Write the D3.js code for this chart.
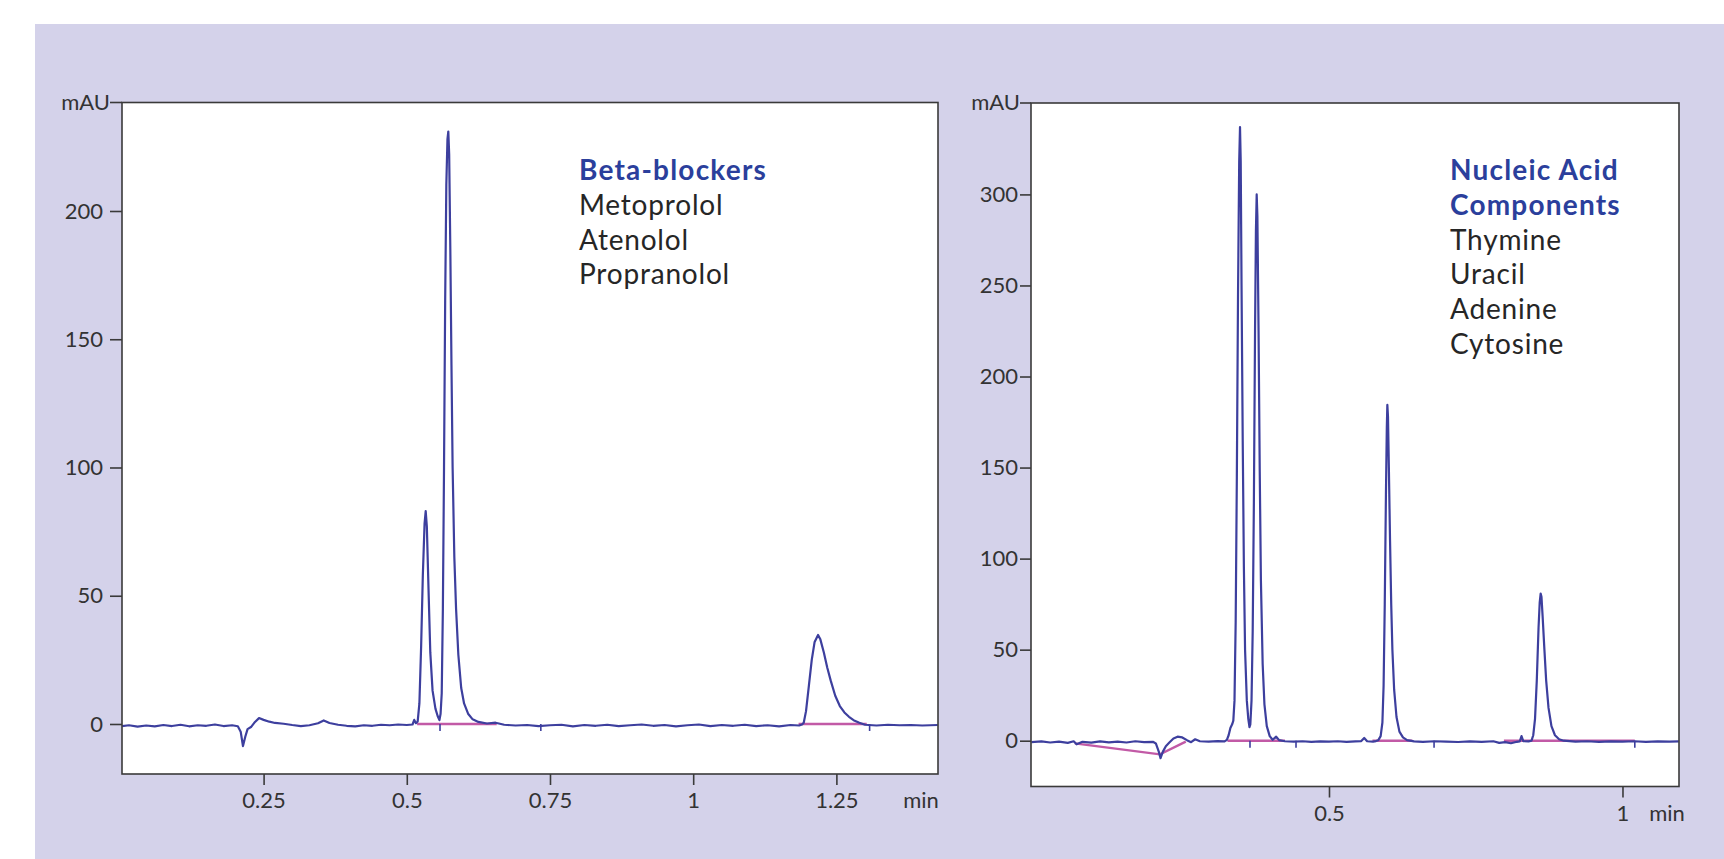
<!DOCTYPE html>
<html>
<head>
<meta charset="utf-8">
<script src="https://cdn.jsdelivr.net/npm/d3@7"></script>
<style>
html, body { margin: 0; padding: 0; background: #fff; }
svg { display: block; }
text { font-family: Lato, "Open Sans", sans-serif; }
</style>
</head>
<body>
<svg id="chart" width="1724" height="859"></svg>
<script>
// ---- Beta-blockers chromatogram (min, mAU) ----
const betaTrace = [
  [0.003,-0.8],[0.015,-0.5],[0.03,-1.0],[0.045,-0.6],[0.06,-0.9],[0.075,-0.4],[0.09,-0.8],[0.105,-0.3],
  [0.12,-0.9],[0.135,-0.5],[0.15,-0.7],[0.165,-0.2],[0.18,-0.8],[0.195,-0.5],[0.205,-0.9],[0.21,-3.0],
  [0.214,-8.6],[0.218,-5.0],[0.222,-2.0],[0.228,-1.2],[0.235,0.8],[0.242,2.3],[0.25,1.6],[0.26,0.9],
  [0.27,0.4],[0.285,0.1],[0.3,-0.4],[0.315,-0.8],[0.33,-0.5],[0.345,0.3],[0.355,1.4],[0.365,0.4],
  [0.38,-0.3],[0.395,-0.7],[0.41,-0.9],[0.425,-0.5],[0.44,-0.7],[0.455,-0.3],[0.47,-0.5],[0.485,-0.2],
  [0.5,-0.4],[0.51,-0.2],[0.513,1.6],[0.516,0.3],[0.519,1.0],[0.522,8],[0.525,30],[0.528,58],
  [0.531,78],[0.533,83],[0.535,77],[0.538,52],[0.541,28],[0.545,13],[0.55,6],[0.554,3],
  [0.557,1.5],[0.559,4],[0.561,12],[0.563,45],[0.565,100],[0.567,165],[0.569,210],[0.571,228],
  [0.5725,231],[0.574,222],[0.576,185],[0.578,140],[0.58,100],[0.583,65],[0.586,45],[0.59,27],
  [0.595,14],[0.6,8],[0.607,4],[0.615,1.8],[0.625,0.8],[0.64,0.2],[0.655,0.5],[0.67,-0.3],
  [0.69,-0.6],[0.71,-0.4],[0.73,-0.8],[0.75,-0.5],[0.77,-0.3],[0.79,-0.9],[0.81,-0.4],[0.83,-0.7],
  [0.85,-0.3],[0.87,-0.8],[0.89,-0.5],[0.91,-0.2],[0.93,-0.7],[0.95,-0.4],[0.97,-0.9],[0.99,-0.5],
  [1.01,-0.2],[1.03,-0.8],[1.05,-0.4],[1.07,-0.7],[1.09,-0.3],[1.11,-0.8],[1.13,-0.5],[1.15,-0.9],
  [1.17,-0.4],[1.185,-0.6],[1.19,-0.2],[1.193,0.5],[1.197,5],[1.202,15],[1.207,25],[1.212,32],
  [1.218,34.7],[1.222,33],[1.228,28],[1.234,22],[1.24,17],[1.248,11],[1.256,7],[1.264,4.5],
  [1.272,2.8],[1.28,1.5],[1.29,0.5],[1.3,-0.3],[1.32,-0.6],[1.34,-0.3],[1.36,-0.5],[1.38,-0.4],
  [1.4,-0.6],[1.427,-0.4]
];
const betaBaselines = [
  [[0.518,0],[0.657,0]],
  [[1.184,0],[1.303,0]]
];
const betaMarks = [0.558, 0.734, 1.308];
const betaYTicks = [0, 50, 100, 150, 200];
const betaXTicks = [0.25, 0.5, 0.75, 1, 1.25];
const betaXLabels = ["0.25", "0.5", "0.75", "1", "1.25"];
const betaTitle = ["Beta-blockers"];
const betaNames = ["Metoprolol", "Atenolol", "Propranolol"];

// ---- Nucleic acid components chromatogram (min, mAU) ----
const nucleicTrace = [
  [-0.007,-0.8],[0.01,-0.4],[0.025,-1.0],[0.04,-0.5],[0.055,-1.2],[0.065,-0.3],[0.07,-2.0],[0.08,-0.6],
  [0.095,-1.1],[0.11,-0.4],[0.125,-0.9],[0.14,-0.5],[0.155,-1.0],[0.17,-0.3],[0.185,-0.8],[0.2,-0.6],
  [0.205,-1.5],[0.21,-6],[0.213,-9.6],[0.217,-6],[0.222,-3],[0.228,-1],[0.235,1.2],[0.242,2.2],
  [0.25,1.8],[0.258,0.3],[0.265,-0.8],[0.272,0.8],[0.28,-0.3],[0.295,-0.5],[0.31,-0.2],[0.322,-0.4],
  [0.326,0.5],[0.329,3],[0.332,7],[0.335,9],[0.337,11],[0.339,22],[0.341,65],[0.343,145],
  [0.345,245],[0.347,318],[0.3484,337],[0.3496,318],[0.351,250],[0.353,165],[0.355,95],[0.357,50],
  [0.36,22],[0.3625,12],[0.3645,7.5],[0.366,9],[0.368,22],[0.37,60],[0.372,130],[0.374,225],
  [0.3755,280],[0.3768,300],[0.378,288],[0.38,225],[0.382,148],[0.384,88],[0.387,42],[0.39,20],
  [0.394,8],[0.399,2.5],[0.404,0.5],[0.41,2.2],[0.415,0.3],[0.425,-0.3],[0.44,-0.5],[0.455,-0.3],
  [0.47,-0.6],[0.485,-0.4],[0.5,-0.5],[0.515,-0.3],[0.53,-0.6],[0.545,-0.4],[0.555,-0.2],[0.56,1.5],
  [0.565,-0.3],[0.575,-0.5],[0.58,-0.2],[0.584,0.3],[0.588,2.5],[0.591,10],[0.593,30],[0.595,75],
  [0.597,135],[0.5985,172],[0.5994,184.4],[0.6005,178],[0.602,150],[0.604,110],[0.606,75],[0.608,50],
  [0.611,28],[0.615,13],[0.62,5],[0.626,1.8],[0.633,0.3],[0.645,-0.4],[0.66,-0.6],[0.68,-0.3],
  [0.7,-0.5],[0.72,-0.7],[0.74,-0.4],[0.76,-0.6],[0.78,-0.3],[0.79,-1.2],[0.8,-0.8],[0.81,-1.4],
  [0.82,-0.6],[0.825,-0.4],[0.828,2.5],[0.831,-0.2],[0.84,-0.4],[0.845,0],[0.848,3],[0.851,12],
  [0.854,33],[0.857,62],[0.859,76],[0.8606,80.8],[0.862,79],[0.864,68],[0.867,50],[0.87,33],
  [0.874,18],[0.879,8],[0.885,3],[0.892,0.8],[0.9,0],[0.92,-0.5],[0.94,-0.3],[0.96,-0.6],
  [0.98,-0.4],[1.0,-0.5],[1.02,-0.3],[1.04,-0.6],[1.06,-0.4],[1.08,-0.5],[1.096,-0.4]
];
const nucleicBaselines = [
  [[0.067,-1.5],[0.212,-7.5],[0.256,-0.5]],
  [[0.327,0],[0.425,0]],
  [[0.574,0],[0.642,0]],
  [[0.798,0],[1.021,0]]
];
const nucleicMarks = [0.3654, 0.4438, 0.679, 1.021];
const nucleicYTicks = [0, 50, 100, 150, 200, 250, 300];
const nucleicXTicks = [0.5, 1];
const nucleicXLabels = ["0.5", "1"];
const nucleicTitle = ["Nucleic Acid", "Components"];
const nucleicNames = ["Thymine", "Uracil", "Adenine", "Cytosine"];

const svg = d3.select("#chart");

// lavender panel behind both charts
svg.append("rect")
    .attr("x", 35).attr("y", 24)
    .attr("width", 1724 - 35).attr("height", 859 - 24)
    .attr("fill", "#d4d2ea");

/**
 * Draw one chromatogram in a framed box
 */
function drawPanel(p) {
    const x = d3.scaleLinear().domain(p.xDomain).range([p.left, p.right]);
    const y = d3.scaleLinear().domain(p.yDomain).range([p.bottom, p.top]);
    const g = svg.append("g");

    g.append("rect")
        .attr("x", p.left).attr("y", p.top)
        .attr("width", p.right - p.left).attr("height", p.bottom - p.top)
        .attr("fill", "#fff");

    const clipId = "clip" + p.id;
    g.append("clipPath").attr("id", clipId)
        .append("rect")
        .attr("x", p.left).attr("y", p.top)
        .attr("width", p.right - p.left).attr("height", p.bottom - p.top);

    const line = d3.line().x(d => x(d[0])).y(d => y(d[1]));
    const plot = g.append("g").attr("clip-path", `url(#${clipId})`);

    // integration baselines
    plot.selectAll("path.base")
        .data(p.baselines)
        .join("path")
            .attr("class", "base")
            .attr("d", line)
            .attr("fill", "none")
            .attr("stroke", "#c25aa6")
            .attr("stroke-width", 2.4);

    // the trace
    plot.append("path")
        .datum(p.trace)
        .attr("d", line)
        .attr("fill", "none")
        .attr("stroke", "#3d3f9e")
        .attr("stroke-width", 2.2)
        .attr("stroke-linejoin", "round");

    // peak event marks
    plot.selectAll("line.mark")
        .data(p.marks)
        .join("line")
            .attr("class", "mark")
            .attr("x1", d => x(d)).attr("x2", d => x(d))
            .attr("y1", y(0)).attr("y2", y(0) + 7)
            .attr("stroke", "#3d3f9e")
            .attr("stroke-width", 1.6);

    // frame
    g.append("rect")
        .attr("x", p.left).attr("y", p.top)
        .attr("width", p.right - p.left).attr("height", p.bottom - p.top)
        .attr("fill", "none")
        .attr("stroke", "#3a3a3a")
        .attr("stroke-width", 1.6);

    // y axis
    const yAxis = g.append("g")
        .attr("transform", `translate(${p.left},0)`)
        .call(d3.axisLeft(y).tickValues(p.yTicks).tickSize(p.yTickSize).tickPadding(p.yPad));
    // x axis
    const xAxis = g.append("g")
        .attr("transform", `translate(0,${p.bottom})`)
        .call(d3.axisBottom(x).tickValues(p.xTicks).tickSize(11).tickPadding(7.5)
            .tickFormat((d, i) => p.xLabels[i]));

    [yAxis, xAxis].forEach(a => {
        a.select(".domain").remove();
        a.selectAll(".tick line").attr("stroke", "#3a3a3a").attr("stroke-width", 1.6);
        a.selectAll(".tick text")
            .attr("fill", "#333")
            .style("font-size", "22px")
            .style("font-family", "Lato, 'Open Sans', sans-serif");
    });

    // mAU at top of y axis
    g.append("line")
        .attr("x1", p.left - p.yTickSize).attr("x2", p.left)
        .attr("y1", p.top).attr("y2", p.top)
        .attr("stroke", "#3a3a3a").attr("stroke-width", 1.6);
    g.append("text")
        .attr("x", p.left - p.yTickSize).attr("y", p.top)
        .attr("dy", "0.32em")
        .attr("text-anchor", "end")
        .attr("fill", "#333")
        .style("font-size", "22px")
        .text("mAU");

    // min unit label
    g.append("text")
        .attr("x", p.minX).attr("y", p.bottom + 11 + 7.5)
        .attr("dy", "0.71em")
        .attr("text-anchor", "middle")
        .attr("fill", "#333")
        .style("font-size", "22px")
        .text("min");

    // legend
    const rows = p.title.map(t => ({ text: t, bold: true }))
        .concat(p.names.map(t => ({ text: t, bold: false })));
    g.selectAll("text.legend")
        .data(rows)
        .join("text")
            .attr("class", "legend")
            .attr("x", p.legendX)
            .attr("y", (d, i) => p.legendY + i * 34.8)
            .attr("fill", d => d.bold ? "#2b3f9c" : "#262626")
            .attr("font-weight", d => d.bold ? 700 : 400)
            .attr("letter-spacing", d => d.bold ? "1.2px" : "0.8px")
            .style("font-size", "28px")
            .text(d => d.text);
}

drawPanel({
    id: "A",
    left: 122, right: 938, top: 102.5, bottom: 774,
    xDomain: [0.0028, 1.4274], yDomain: [-19.5, 242.3],
    trace: betaTrace, baselines: betaBaselines, marks: betaMarks,
    yTicks: betaYTicks, xTicks: betaXTicks, xLabels: betaXLabels,
    yTickSize: 12, yPad: 7,
    minX: 921,
    title: betaTitle, names: betaNames,
    legendX: 579, legendY: 180
});

drawPanel({
    id: "B",
    left: 1031, right: 1679, top: 103, bottom: 786.5,
    xDomain: [-0.0077, 1.0963], yDomain: [-25.15, 350.2],
    trace: nucleicTrace, baselines: nucleicBaselines, marks: nucleicMarks,
    yTicks: nucleicYTicks, xTicks: nucleicXTicks, xLabels: nucleicXLabels,
    yTickSize: 11, yPad: 2,
    minX: 1667,
    title: nucleicTitle, names: nucleicNames,
    legendX: 1450, legendY: 180
});
</script>
</body>
</html>
